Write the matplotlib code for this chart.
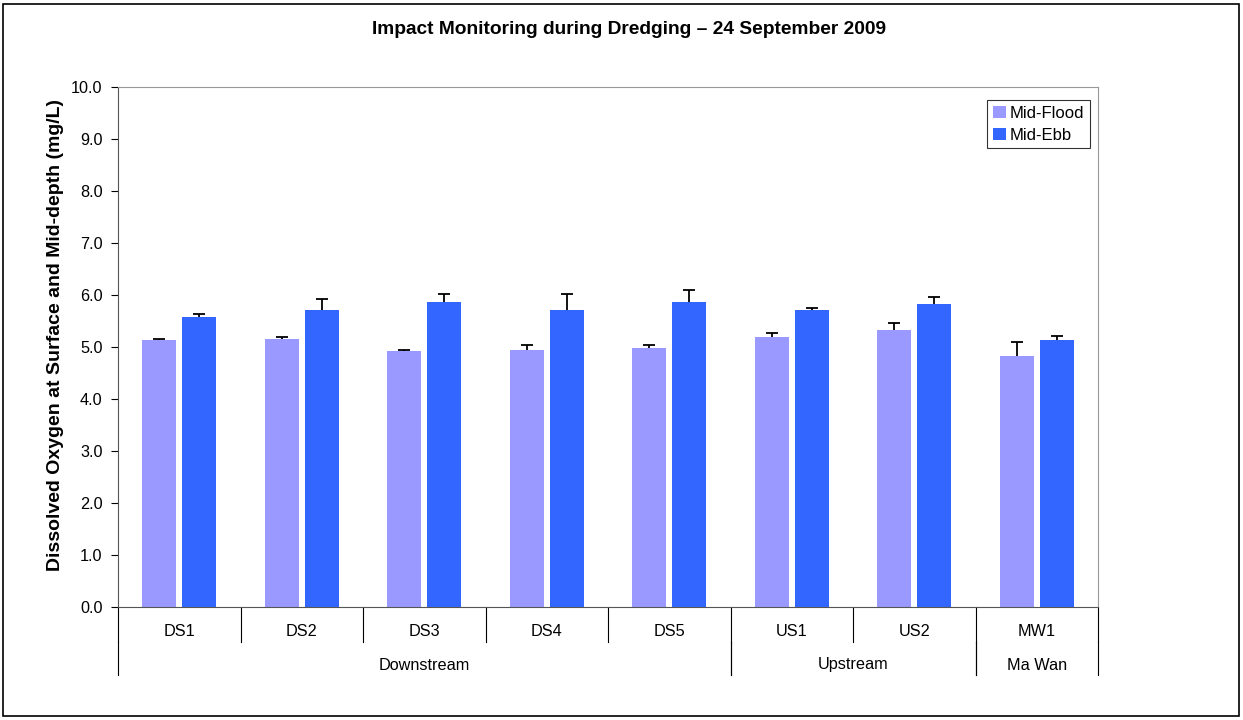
import matplotlib
matplotlib.use("Agg")
import matplotlib.pyplot as plt
import matplotlib.transforms as mtransforms
from matplotlib.patches import Rectangle
import numpy as np

plt.rcParams['font.family'] = ['Liberation Sans', 'DejaVu Sans']

# data
stations = ['DS1', 'DS2', 'DS3', 'DS4', 'DS5', 'US1', 'US2', 'MW1']
groups = ['Downstream', 'Upstream', 'Ma Wan']
group_sizes = [5, 2, 1]
mid_flood = [5.13, 5.15, 4.92, 4.94, 4.98, 5.19, 5.33, 4.83]
mid_flood_err = [0.03, 0.04, 0.02, 0.09, 0.05, 0.07, 0.13, 0.27]
mid_ebb = [5.58, 5.71, 5.87, 5.71, 5.87, 5.71, 5.83, 5.13]
mid_ebb_err = [0.05, 0.21, 0.14, 0.30, 0.23, 0.04, 0.14, 0.09]

W, H = 1243, 720
fig = plt.figure(figsize=(W / 100, H / 100), dpi=100)
ax = fig.add_axes([118 / W, 1 - 607 / H, 980 / W, 520 / H])

# border round the whole chart
fig.patches.append(Rectangle((3 / W, 4 / H), 1 - 7 / W, 1 - 8 / H, transform=fig.transFigure,
                             fill=False, edgecolor='black', linewidth=1.2))

x = np.arange(len(stations))
bw = 0.277
off = 0.165
ax.bar(x - off, mid_flood, bw, color='#9999FF', label='Mid-Flood', zorder=2)
ax.bar(x + off, mid_ebb, bw, color='#3366FF', label='Mid-Ebb', zorder=2)
# plus-only error bars (cap at the top only)
for xs, vals, errs in [(x - off, mid_flood, mid_flood_err), (x + off, mid_ebb, mid_ebb_err)]:
    eb = ax.errorbar(xs, vals, yerr=[np.zeros(len(xs)), errs], fmt='none', ecolor='black',
                     elinewidth=1.3, capsize=4, capthick=1.3, zorder=3)
    eb[1][0].set_visible(False)

ax.set_xlim(-0.5, len(stations) - 0.5)
ax.set_ylim(0, 10)
ax.set_yticks(np.arange(0, 10.5, 1.0))
ax.set_yticklabels([f'{v:.1f}' for v in np.arange(0, 10.5, 1.0)], fontsize=11.7)
ax.tick_params(axis='y', direction='out', length=5, width=0.8, pad=6)
ax.set_xticks([])
for s in ['top', 'right']:
    ax.spines[s].set_color('#999999')
ax.spines['left'].set_color('#555555')
ax.spines['bottom'].set_color('#555555')

ax.set_ylabel('Dissolved Oxygen at Surface and Mid-depth (mg/L)', fontsize=14,
              fontweight='bold')
ax.yaxis.set_label_coords(-0.055, 0.523)
fig.text(629 / W, 1 - 30 / H, 'Impact Monitoring during Dredging \u2013 24 September 2009',
         fontsize=13.8, fontweight='bold', ha='center', va='center')

# two-level category axis
trans = mtransforms.blended_transform_factory(ax.transData, ax.transAxes)
for i, st in enumerate(stations):
    ax.text(i, -25 / 520, st, transform=trans, ha='center', va='center', fontsize=11.7)
for b in np.arange(len(stations) + 1) - 0.5:
    ax.plot([b, b], [0, -35 / 520], transform=trans, color='black', lw=0.8, clip_on=False)
start = 0
for g, n in zip(groups, group_sizes):
    ax.text(start - 0.5 + n / 2, -58 / 520, g, transform=trans, ha='center', va='center',
            fontsize=11.7)
    for b in [start - 0.5, start + n - 0.5]:
        ax.plot([b, b], [-35 / 520, -68 / 520], transform=trans, color='black', lw=0.8,
                clip_on=False)
    start += n

leg = ax.legend(loc='upper right', bbox_to_anchor=(1 - 8 / 980, 1 - 13 / 520), fontsize=12,
                frameon=True, fancybox=False, edgecolor='black', handlelength=0.75,
                handleheight=0.75, handletextpad=0.25, borderpad=0.35, labelspacing=0.4,
                borderaxespad=0)
leg.get_frame().set_linewidth(0.8)

fig.savefig('out.png', dpi=100)
